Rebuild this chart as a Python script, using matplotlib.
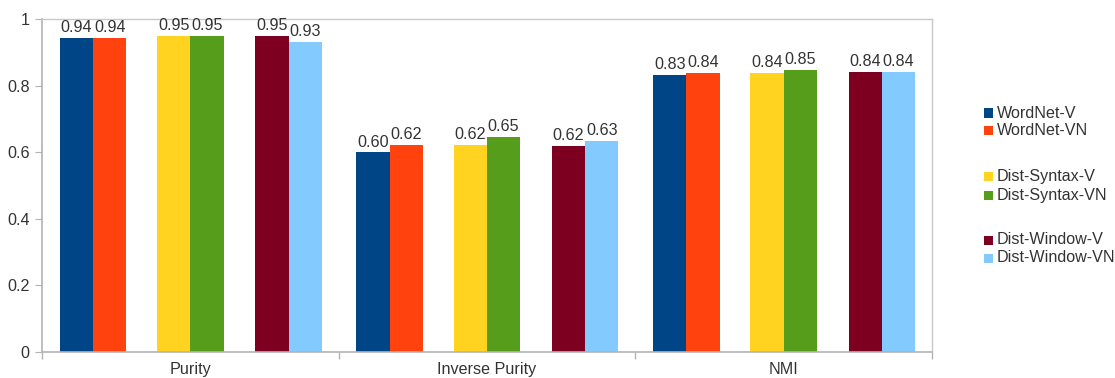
import matplotlib
matplotlib.use("Agg")
import matplotlib.pyplot as plt
import numpy as np
from matplotlib.patches import Rectangle

plt.rcParams["font.family"] = ["Liberation Sans", "DejaVu Sans"]

# ---- data ----
categories = ["Purity", "Inverse Purity", "NMI"]
series = ["WordNet-V", "WordNet-VN", "Dist-Syntax-V", "Dist-Syntax-VN",
          "Dist-Window-V", "Dist-Window-VN"]
wordnet_v = [0.943, 0.600, 0.832]
wordnet_vn = [0.943, 0.622, 0.838]
syntax_v = [0.949, 0.622, 0.838]
syntax_vn = [0.949, 0.646, 0.847]
window_v = [0.949, 0.619, 0.841]
window_vn = [0.931, 0.634, 0.841]
values = [wordnet_v, wordnet_vn, syntax_v, syntax_vn, window_v, window_vn]
colors = ["#004586", "#ff420e", "#ffd320", "#579d1c", "#7e0021", "#83caff"]

TXT = "#333333"
AX = "#b3b3b3"
FS = 11.6

fig = plt.figure(figsize=(11.15, 3.78), dpi=100)
ax = fig.add_axes([42 / 1115, 26 / 378, 890 / 1115, 333 / 378])

x = np.arange(len(categories))
w = 0.112
pair_off = [-0.328, 0.0, 0.331]
for i, (name, vals, c) in enumerate(zip(series, values, colors)):
    off = pair_off[i // 2] + (-w / 2 if i % 2 == 0 else w / 2)
    bars = ax.bar(x + off, vals, width=w, color=c, label=name, linewidth=0)
    for b, v in zip(bars, vals):
        ax.text(b.get_x() + b.get_width() / 2, v + 0.008, f"{v:.2f}",
                ha="center", va="bottom", fontsize=FS, color=TXT)

ax.set_xlim(-0.5, 2.5)
ax.set_ylim(0, 1)
ax.set_yticks(np.arange(0, 1.01, 0.2))
ax.set_yticklabels(["0", "0.2", "0.4", "0.6", "0.8", "1"])
ax.set_xticks(x)
ax.set_xticklabels(categories)
ax.set_xticks([-0.5, 0.5, 1.5, 2.5], minor=True)
ax.tick_params(axis="x", which="major", length=0, pad=7, labelsize=FS, colors=TXT)
ax.tick_params(axis="x", which="minor", length=5, color=AX, width=1)
ax.tick_params(axis="y", length=5, color=AX, labelsize=FS, labelcolor=TXT, pad=4)
for s in ["left", "bottom"]:
    ax.spines[s].set_color(AX)
    ax.spines[s].set_linewidth(1.2)
for s in ["top", "right"]:
    ax.spines[s].set_color("#c8c8c8")
    ax.spines[s].set_linewidth(1.0)

# ---- legend (grouped in pairs) ----
leg_y = [113, 131, 177, 195, 240, 258]
for name, c, yy in zip(series, colors, leg_y):
    fy = 1 - yy / 378
    fig.patches.append(Rectangle((984 / 1115, fy - 4.5 / 378), 9 / 1115, 9 / 378,
                                 transform=fig.transFigure, color=c, linewidth=0))
    fig.text(997 / 1115, fy, name, fontsize=FS, color=TXT, va="center", ha="left")

fig.savefig("out.png", dpi=100)
